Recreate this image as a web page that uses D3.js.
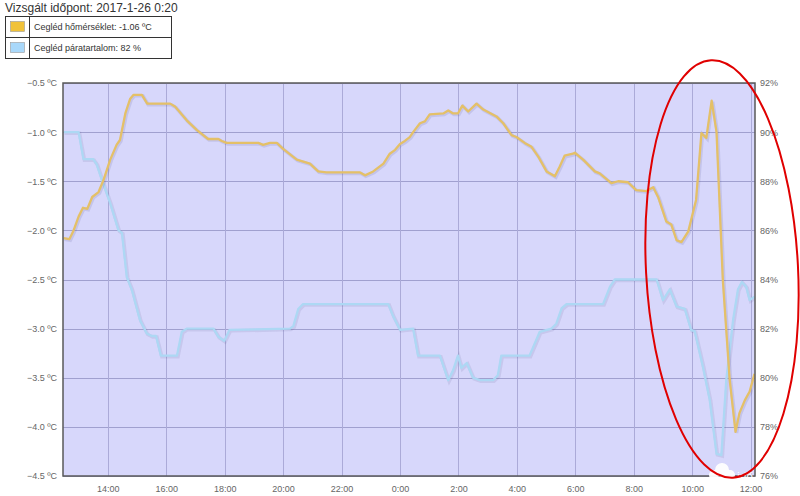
<!DOCTYPE html>
<html><head><meta charset="utf-8">
<script src="https://cdn.jsdelivr.net/npm/d3@7"></script>
<style>
html,body{margin:0;padding:0;background:#fff;}
svg{display:block;font-family:Arial,"Liberation Sans",sans-serif;}
</style></head>
<body><svg id="c" width="800" height="496"></svg>
<script>
const titleText = "Vizsgált időpont: 2017-1-26 0:20";
const legendLabels = ["Cegléd hőmérséklet: -1.06 ºC", "Cegléd páratartalom: 82 %"];
const timeDomain = ["2017-01-25 12:28", "2017-01-26 12:09"];
const timeTicks = ["2017-01-25 14:00","2017-01-25 16:00","2017-01-25 18:00","2017-01-25 20:00","2017-01-25 22:00","2017-01-26 00:00","2017-01-26 02:00","2017-01-26 04:00","2017-01-26 06:00","2017-01-26 08:00","2017-01-26 10:00","2017-01-26 12:00"];
const tempTicks = [-0.5,-1.0,-1.5,-2.0,-2.5,-3.0,-3.5,-4.0,-4.5];
const humTicks = [92,90,88,86,84,82,80,78,76];

const temperature = [
["2017-01-25 12:29",-2.08],["2017-01-25 12:41",-2.09],["2017-01-25 12:49",-2.01],["2017-01-25 13:00",-1.86],
["2017-01-25 13:09",-1.77],["2017-01-25 13:18",-1.78],["2017-01-25 13:28",-1.66],["2017-01-25 13:41",-1.61],
["2017-01-25 13:51",-1.49],["2017-01-25 14:05",-1.28],["2017-01-25 14:18",-1.13],["2017-01-25 14:25",-1.08],
["2017-01-25 14:36",-0.81],["2017-01-25 14:46",-0.66],["2017-01-25 14:53",-0.62],["2017-01-25 15:10",-0.62],
["2017-01-25 15:21",-0.71],["2017-01-25 16:08",-0.71],["2017-01-25 16:18",-0.74],["2017-01-25 16:42",-0.88],
["2017-01-25 17:03",-0.98],["2017-01-25 17:26",-1.07],["2017-01-25 17:47",-1.07],["2017-01-25 17:54",-1.09],
["2017-01-25 18:04",-1.11],["2017-01-25 19:09",-1.11],["2017-01-25 19:19",-1.13],["2017-01-25 19:33",-1.11],
["2017-01-25 19:47",-1.11],["2017-01-25 20:00",-1.17],["2017-01-25 20:28",-1.28],["2017-01-25 20:55",-1.32],
["2017-01-25 21:12",-1.40],["2017-01-25 21:29",-1.41],["2017-01-25 22:38",-1.41],["2017-01-25 22:48",-1.44],
["2017-01-25 23:05",-1.40],["2017-01-25 23:26",-1.32],["2017-01-25 23:39",-1.22],["2017-01-25 23:50",-1.18],
["2017-01-26 00:00",-1.12],["2017-01-26 00:10",-1.09],["2017-01-26 00:20",-1.05],["2017-01-26 00:27",-1.00],
["2017-01-26 00:41",-0.91],["2017-01-26 00:51",-0.89],["2017-01-26 01:01",-0.82],["2017-01-26 01:29",-0.81],
["2017-01-26 01:39",-0.78],["2017-01-26 01:49",-0.81],["2017-01-26 01:59",-0.81],["2017-01-26 02:08",-0.73],
["2017-01-26 02:20",-0.79],["2017-01-26 02:37",-0.71],["2017-01-26 02:51",-0.77],["2017-01-26 03:18",-0.84],
["2017-01-26 03:32",-0.91],["2017-01-26 03:49",-1.03],["2017-01-26 03:59",-1.05],["2017-01-26 04:16",-1.11],
["2017-01-26 04:30",-1.15],["2017-01-26 04:44",-1.25],["2017-01-26 05:01",-1.40],["2017-01-26 05:18",-1.45],
["2017-01-26 05:28",-1.35],["2017-01-26 05:38",-1.24],["2017-01-26 05:55",-1.22],["2017-01-26 05:59",-1.21],
["2017-01-26 06:16",-1.28],["2017-01-26 06:40",-1.40],["2017-01-26 06:50",-1.42],["2017-01-26 07:14",-1.52],
["2017-01-26 07:28",-1.50],["2017-01-26 07:48",-1.51],["2017-01-26 08:05",-1.59],["2017-01-26 08:26",-1.60],
["2017-01-26 08:40",-1.56],["2017-01-26 08:50",-1.66],["2017-01-26 09:07",-1.91],["2017-01-26 09:17",-1.94],
["2017-01-26 09:28",-2.10],["2017-01-26 09:38",-2.12],["2017-01-26 09:52",-2.01],["2017-01-26 10:08",-1.69],
["2017-01-26 10:19",-1.01],["2017-01-26 10:29",-1.06],["2017-01-26 10:40",-0.68],["2017-01-26 10:50",-1.00],
["2017-01-26 11:03",-2.51],["2017-01-26 11:17",-3.52],["2017-01-26 11:29",-4.05],["2017-01-26 11:37",-3.86],
["2017-01-26 11:48",-3.73],["2017-01-26 11:58",-3.64],["2017-01-26 12:08",-3.46]
];

const humidity = [
["2017-01-25 12:29",90.0],["2017-01-25 13:00",90.0],["2017-01-25 13:10",88.9],["2017-01-25 13:30",88.9],
["2017-01-25 13:37",88.7],["2017-01-25 13:48",88.05],["2017-01-25 14:05",87.1],["2017-01-25 14:22",86.0],
["2017-01-25 14:29",85.9],["2017-01-25 14:39",84.1],["2017-01-25 14:49",83.6],["2017-01-25 15:06",82.35],
["2017-01-25 15:20",81.8],["2017-01-25 15:30",81.7],["2017-01-25 15:39",81.7],["2017-01-25 15:49",80.9],
["2017-01-25 16:22",80.9],["2017-01-25 16:32",81.87],["2017-01-25 16:42",82.0],["2017-01-25 17:37",82.0],
["2017-01-25 17:47",81.67],["2017-01-25 17:59",81.5],["2017-01-25 18:10",81.95],["2017-01-25 20:14",82.0],
["2017-01-25 20:21",82.1],["2017-01-25 20:31",82.8],["2017-01-25 20:41",83.0],["2017-01-25 23:36",83.0],
["2017-01-25 23:46",82.5],["2017-01-26 00:00",81.95],["2017-01-26 00:27",82.0],["2017-01-26 00:37",80.9],
["2017-01-26 01:22",80.9],["2017-01-26 01:39",79.9],["2017-01-26 01:49",80.3],["2017-01-26 01:59",80.9],
["2017-01-26 02:06",80.4],["2017-01-26 02:17",80.6],["2017-01-26 02:30",80.0],["2017-01-26 02:44",79.9],
["2017-01-26 03:11",79.9],["2017-01-26 03:21",80.1],["2017-01-26 03:28",80.9],["2017-01-26 04:26",80.9],
["2017-01-26 04:47",81.87],["2017-01-26 05:11",82.0],["2017-01-26 05:21",82.2],["2017-01-26 05:32",82.83],
["2017-01-26 05:42",83.0],["2017-01-26 06:57",83.0],["2017-01-26 07:11",83.7],["2017-01-26 07:21",84.0],
["2017-01-26 08:47",84.0],["2017-01-26 09:00",83.16],["2017-01-26 09:14",83.6],["2017-01-26 09:28",82.9],
["2017-01-26 09:45",82.8],["2017-01-26 09:58",81.94],["2017-01-26 10:05",81.9],["2017-01-26 10:22",80.45],
["2017-01-26 10:36",79.1],["2017-01-26 10:50",76.9],["2017-01-26 11:00",76.85],["2017-01-26 11:10",79.9],
["2017-01-26 11:24",82.35],["2017-01-26 11:34",83.6],["2017-01-26 11:42",83.9],["2017-01-26 11:51",83.7],
["2017-01-26 11:58",83.16],["2017-01-26 12:08",83.3]
];

const parse = d3.timeParse("%Y-%m-%d %H:%M");
const svg = d3.select("#c");
const L = 63, R = 755, T = 83, B = 476;

const x = d3.scaleTime().domain(timeDomain.map(parse)).range([L, R]);
const yT = d3.scaleLinear().domain([-4.5, -0.5]).range([B, T]);
const yH = d3.scaleLinear().domain([76, 92]).range([B, T]);

// plot background
svg.append("rect").attr("x", L).attr("y", T).attr("width", R - L).attr("height", B - T).attr("fill", "#d7d7fb");

// grid
const grid = svg.append("g");
grid.selectAll("line.h").data(tempTicks).join("line")
  .attr("x1", L).attr("x2", R).attr("y1", d => Math.round(yT(d)) + 0.5).attr("y2", d => Math.round(yT(d)) + 0.5)
  .attr("stroke", "#a0a0cf").attr("stroke-width", 1);
grid.selectAll("line.v").data(timeTicks.map(parse)).join("line")
  .attr("y1", T).attr("y2", B).attr("x1", d => Math.round(x(d)) + 0.5).attr("x2", d => Math.round(x(d)) + 0.5)
  .attr("stroke", "#abaad8").attr("stroke-width", 1);

// axes
const axL = d3.axisLeft(yT).tickValues(tempTicks).tickSize(0).tickPadding(6).tickFormat(d => d3.format(".1f")(d) + " ºC");
const gL = svg.append("g").attr("transform", `translate(${L},0)`).call(axL);
const axR = d3.axisRight(yH).tickValues(humTicks).tickSize(0).tickPadding(5).tickFormat(d => d + "%");
const gR = svg.append("g").attr("transform", `translate(${R},0)`).call(axR);
const axB = d3.axisBottom(x).tickValues(timeTicks.map(parse)).tickSize(0).tickPadding(10).tickFormat(d3.timeFormat("%-H:%M"));
const gB = svg.append("g").attr("transform", `translate(0,${B})`).call(axB);
[gL, gR, gB].forEach(g => {
  g.select(".domain").remove();
  g.selectAll("text").attr("fill", "#666").attr("font-size", 9).attr("font-family", "Arial,'Liberation Sans',sans-serif");
});

// lines
const lineT = d3.line().x(d => x(parse(d[0]))).y(d => yT(d[1]));
const lineH = d3.line().x(d => x(parse(d[0]))).y(d => yH(d[1]));
const plot = svg.append("g");
plot.append("clipPath").attr("id", "clip").append("rect").attr("x", L).attr("y", T - 4).attr("width", R - L).attr("height", B - T + 4);
const pg = plot.append("g").attr("clip-path", "url(#clip)");
pg.append("path").datum(humidity).attr("d", lineH).attr("fill", "none").attr("stroke", "rgba(60,60,120,0.10)").attr("stroke-width", 3.5).attr("transform", "translate(1,1)");
pg.append("path").datum(humidity).attr("d", lineH).attr("fill", "none").attr("stroke", "#add8f4").attr("stroke-width", 2.3).attr("stroke-linejoin", "round");
pg.append("path").datum(temperature).attr("d", lineT).attr("fill", "none").attr("stroke", "rgba(60,60,120,0.12)").attr("stroke-width", 3.5).attr("transform", "translate(1,1)");
pg.append("path").datum(temperature).attr("d", lineT).attr("fill", "none").attr("stroke", "#e4c068").attr("stroke-width", 2.3).attr("stroke-linejoin", "round");

// plot border
svg.append("rect").attr("x", L).attr("y", T).attr("width", R - L).attr("height", B - T)
  .attr("fill", "none").attr("stroke", "#5a5a5a").attr("stroke-width", 1.5);

// title
svg.append("text").attr("x", 5).attr("y", 12).attr("font-size", 12).attr("fill", "#333").text(titleText);

// legend table
const leg = svg.append("g");
const rowY = [16, 37, 58];
leg.append("rect").attr("x", 5.5).attr("y", rowY[0] + 0.5).attr("width", 166).attr("height", rowY[2] - rowY[0]).attr("fill", "#fff").attr("stroke", "#333").attr("stroke-width", 1);
leg.append("line").attr("x1", 5.5).attr("x2", 171.5).attr("y1", rowY[1] + 0.5).attr("y2", rowY[1] + 0.5).attr("stroke", "#333");
leg.append("line").attr("x1", 29.5).attr("x2", 29.5).attr("y1", rowY[0]).attr("y2", rowY[2]).attr("stroke", "#333");
const swatchColors = ["#f0c23a", "#a9d8fa"];
legendLabels.forEach((t, i) => {
  const cy = (rowY[i] + rowY[i + 1]) / 2;
  leg.append("rect").attr("x", 10.5).attr("y", cy - 5).attr("width", 14).attr("height", 10).attr("fill", swatchColors[i]).attr("stroke", "#999").attr("stroke-width", 0.6);
  leg.append("text").attr("x", 34).attr("y", cy + 3).attr("font-size", 9).attr("fill", "#333").text(t);
});

// watermark (cloud logo)
const wm = svg.append("g").attr("opacity", 0.95);
wm.append("circle").attr("cx", 722).attr("cy", 470).attr("r", 7).attr("fill", "#fff");
wm.append("circle").attr("cx", 714).attr("cy", 475).attr("r", 5).attr("fill", "#fff");
wm.append("circle").attr("cx", 730).attr("cy", 475).attr("r", 5).attr("fill", "#fff");
wm.append("text").attr("x", 737).attr("y", 481).attr("font-size", 12).attr("fill", "#fff").text("idő");

// red annotation ellipse
svg.append("ellipse").attr("cx", 722).attr("cy", 269).attr("rx", 76).attr("ry", 209)
  .attr("transform", "rotate(-3,722,269)")
  .attr("fill", "none").attr("stroke", "#e00000").attr("stroke-width", 2);
</script></body></html>
